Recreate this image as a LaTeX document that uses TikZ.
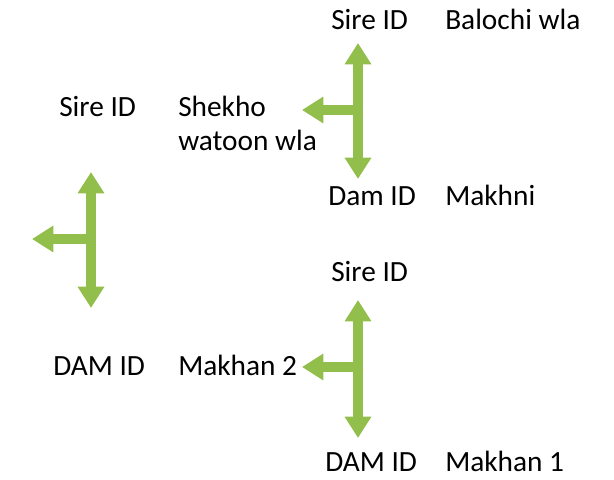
\documentclass[tikz,border=0pt]{standalone}
\usepackage{fontspec}
\setmainfont{Carlito}
\usepackage{tikz}
\usetikzlibrary{arrows.meta,positioning}
\definecolor{arrowgreen}{RGB}{146,190,76}

\begin{document}
\begin{tikzpicture}[x=0.75pt,y=-0.75pt,
    lbl/.style={anchor=base west, inner sep=0pt, font=\fontsize{22pt}{25.5pt}\selectfont},
    tarrow/.style={draw=arrowgreen, line width=7.5pt,
        -{Triangle[width=19pt,length=16pt]}}]
    \useasboundingbox (0,0) rectangle (614,479);

    % Labels
    \node[lbl] (sireA) at (331,29) {Sire ID};
    \node[lbl] (balochi) at (445,29) {Balochi wla};
    \node[lbl] (sireB) at (59,116) {Sire ID};
    \node[lbl, align=left] (shekho) at (178,150) {Shekho\\watoon wla};
    \node[lbl] (damA) at (328,205) {Dam ID};
    \node[lbl] (makhni) at (445,205) {Makhni};
    \node[lbl] (sireC) at (331,281) {Sire ID};
    \node[lbl] (damB) at (53,375) {DAM ID};
    \node[lbl] (makhan2) at (178,375) {Makhan 2};
    \node[lbl] (damC) at (325,471) {DAM ID};
    \node[lbl] (makhan1) at (445,471) {Makhan 1};

    % T-shaped arrows: stem x / top / bottom / bar y / left tip / name
    \foreach \sx/\ty/\by/\my/\lx/\n in {358/43/179/110/302/a, 91/172/308/239/32/b, 358/300/438/367/302/c} {
        \coordinate (top\n) at (\sx,\ty);
        \coordinate (bot\n) at (\sx,\by);
        \coordinate (mid\n) at (\sx,\my);
        \coordinate (left\n) at (\lx,\my);
        \draw[tarrow, {Triangle[width=19pt,length=16pt]}-{Triangle[width=19pt,length=16pt]}] (bot\n) -- (top\n);
        \draw[tarrow] ([xshift=3.75pt]mid\n) -- (left\n);
    }
\end{tikzpicture}
\end{document}
